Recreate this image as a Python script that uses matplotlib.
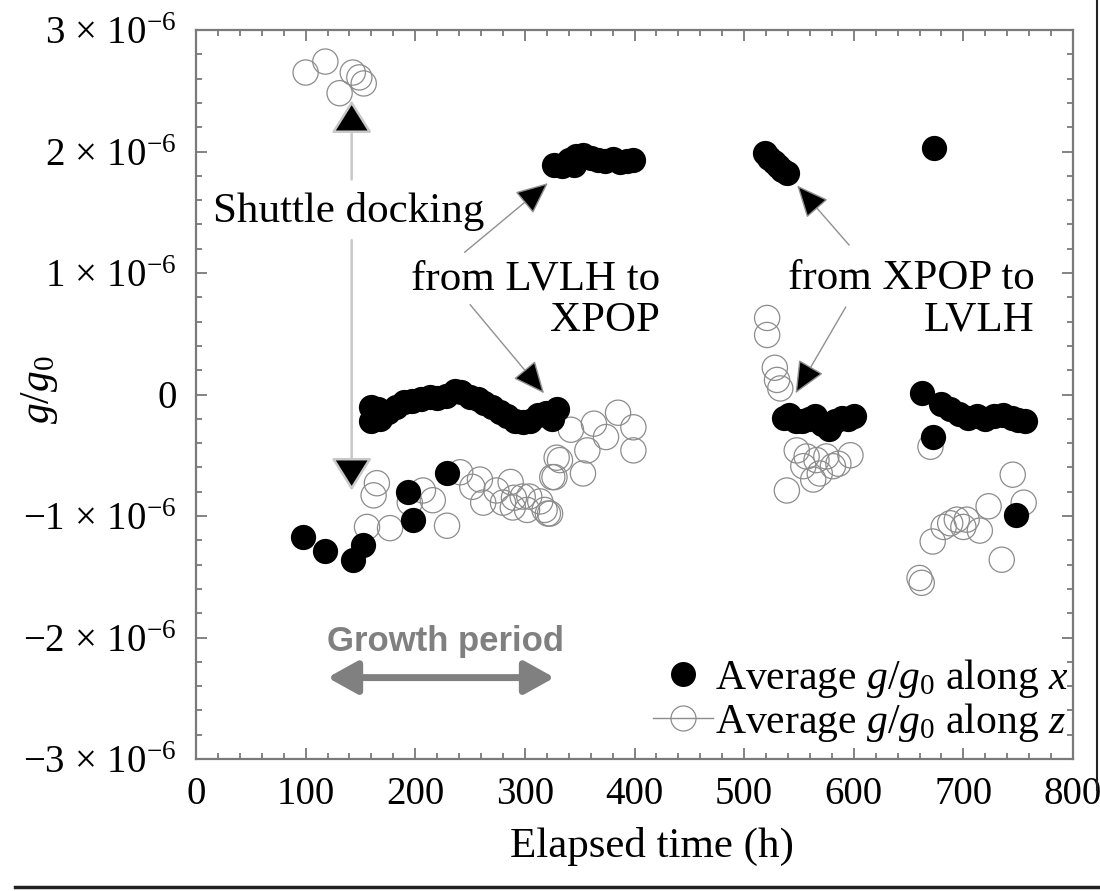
import numpy as np
import matplotlib
matplotlib.use('Agg')
import matplotlib.pyplot as plt
from matplotlib.lines import Line2D
from matplotlib.ticker import MultipleLocator

plt.rcParams['font.family'] = ['Liberation Serif', 'DejaVu Serif']
plt.rcParams['mathtext.fontset'] = 'custom'
plt.rcParams['mathtext.rm'] = 'Liberation Serif'
plt.rcParams['mathtext.it'] = 'Liberation Serif:italic'
plt.rcParams['mathtext.bf'] = 'Liberation Serif:bold'

U = 1e-6

# ---- data: average g/g0 along x (filled) ----
x_time = np.array([98, 118, 143, 152, 193, 198, 229,
                   160, 160, 166, 168, 175, 182, 190, 197, 205, 213, 220, 228, 236, 242,
                   250, 257, 263, 270, 277, 284, 291, 298, 305, 312, 319, 325, 329,
                   327, 334, 340, 345, 347, 353, 360, 367, 373, 380, 387, 393, 399,
                   519, 523, 527, 531, 535, 539,
                   536, 541, 547, 553, 559, 565, 571, 577, 583, 589, 595, 600,
                   662, 673, 672, 680, 688, 696, 704, 712, 720, 728, 736, 744, 750, 756, 748])
x_acc = np.array([-1.17, -1.29, -1.36, -1.24, -0.80, -1.03, -0.65,
                  -0.10, -0.22, -0.12, -0.20, -0.14, -0.10, -0.06, -0.05, -0.04, -0.02, -0.03, -0.01, 0.03, 0.02,
                  -0.02, -0.04, -0.07, -0.10, -0.14, -0.18, -0.22, -0.23, -0.22, -0.17, -0.15, -0.20, -0.12,
                  1.89, 1.88, 1.93, 1.89, 1.96, 1.97, 1.95, 1.93, 1.92, 1.94, 1.91, 1.92, 1.93,
                  1.99, 1.95, 1.91, 1.88, 1.85, 1.82,
                  -0.19, -0.17, -0.22, -0.22, -0.20, -0.18, -0.24, -0.28, -0.22, -0.19, -0.20, -0.18,
                  0.01, 2.03, -0.35, -0.08, -0.12, -0.16, -0.19, -0.18, -0.20, -0.18, -0.17, -0.19, -0.21, -0.22, -0.99]) * U

# ---- data: average g/g0 along z (open) ----
z_time = np.array([100, 118, 131, 143, 149, 153,
                   156, 162, 165, 177, 195, 207, 216, 229, 241, 252, 259, 262, 274, 280,
                   287, 290, 298, 302, 314, 318, 323, 327, 329, 304, 321, 289,
                   332, 342, 353, 357, 363, 374, 385, 399, 399, 325,
                   521, 521, 528, 530, 533, 539, 548, 554, 557, 563, 566, 569, 575, 581, 586, 597,
                   670, 660, 662, 672, 682, 688, 694, 700, 703, 715, 723, 735, 745, 755])
z_acc = np.array([2.65, 2.74, 2.48, 2.65, 2.61, 2.56,
                  -1.09, -0.83, -0.73, -1.10, -0.89, -0.79, -0.87, -1.08, -0.64, -0.76, -0.70, -0.89, -0.79, -0.89,
                  -0.72, -0.85, -0.84, -0.95, -0.88, -0.95, -0.98, -0.68, -0.52, -0.84, -0.98, -0.93,
                  -0.54, -0.29, -0.65, -0.46, -0.24, -0.35, -0.15, -0.27, -0.46, -0.68,
                  0.63, 0.49, 0.22, 0.12, 0.05, -0.79, -0.46, -0.59, -0.51, -0.70, -0.54, -0.65, -0.51, -0.59, -0.57, -0.50,
                  -0.43, -1.51, -1.55, -1.21, -1.09, -1.06, -1.03, -1.09, -1.03, -1.12, -0.92, -1.36, -0.66, -0.89]) * U

x_ticks = [0, 100, 200, 300, 400, 500, 600, 700, 800]
x_tick_labels = ['0', '100', '200', '300', '400', '500', '600', '700', '800']
y_ticks = np.array([-3, -2, -1, 0, 1, 2, 3]) * U
y_tick_labels = [r'$-3\,\times\,10^{-6}$', r'$-2\,\times\,10^{-6}$', r'$-1\,\times\,10^{-6}$', '0',
                 r'$1\,\times\,10^{-6}$', r'$2\,\times\,10^{-6}$', r'$3\,\times\,10^{-6}$']

AX_GRAY = '#7a7a7a'
CIRC_GRAY = '#8c8c8c'

fig = plt.figure(figsize=(11, 8.91), dpi=100)
ax = fig.add_axes([196 / 1100, 1 - 759 / 891, (1073 - 196) / 1100, (759 - 30) / 891])

ax.scatter(z_time, z_acc, s=330, facecolors='none', edgecolors=CIRC_GRAY, linewidths=0.9, zorder=2)
ax.scatter(x_time, x_acc, s=330, c='black', linewidths=0, zorder=3)

ax.set_xlim(0, 800)
ax.set_ylim(-3 * U, 3 * U)
ax.set_xticks(x_ticks)
ax.set_xticklabels(x_tick_labels)
ax.set_yticks(y_ticks)
ax.set_yticklabels(y_tick_labels)
ax.xaxis.set_minor_locator(MultipleLocator(20))
ax.yaxis.set_minor_locator(MultipleLocator(0.2 * U))

for s in ax.spines.values():
    s.set_color(AX_GRAY)
    s.set_linewidth(1.6)
ax.tick_params(which='both', direction='in', top=True, right=True, color=AX_GRAY, width=1.3)
ax.tick_params(which='major', length=8)
ax.tick_params(which='minor', length=4)
ax.tick_params(axis='x', which='major', labelsize=28, pad=12)
ax.tick_params(axis='y', which='major', labelsize=28, pad=14)

ax.set_xlabel('Elapsed time (h)', fontsize=31)
ax.xaxis.set_label_coords(0.52, -0.093)
ax.set_ylabel(r'$g/g_0$', fontsize=30)
ax.yaxis.set_label_coords(-0.155, 0.506)

# annotations
ax.text(15.5, 1.42 * U, 'Shuttle docking', fontsize=31, ha='left', va='baseline', zorder=5)
dock_props = dict(arrowstyle='-|>,head_length=0.4,head_width=0.25', mutation_scale=52,
                  ec='#c8c8c8', fc='black', lw=1.8, shrinkA=0, shrinkB=0)
ax.annotate('', xy=(142, 2.42 * U), xytext=(142, 1.77 * U), arrowprops=dock_props)
ax.annotate('', xy=(142, -0.79 * U), xytext=(142, 1.27 * U), arrowprops=dock_props)

ax.text(423, 0.78 * U, 'from LVLH to\nXPOP', fontsize=31, ha='right', va='center',
        multialignment='right', linespacing=1.1)
ax.text(765, 0.78 * U, 'from XPOP to\nLVLH', fontsize=31, ha='right', va='center',
        multialignment='right', linespacing=1.1)
arr_props = dict(arrowstyle='-|>,head_length=0.45,head_width=0.2', mutation_scale=45,
                 ec='#909090', fc='black', lw=1.0, shrinkA=0, shrinkB=0)
ax.annotate('', xy=(321, 1.74 * U), xytext=(245, 1.17 * U), arrowprops=arr_props)
ax.annotate('', xy=(317.5, 0.01 * U), xytext=(250, 0.74 * U), arrowprops=arr_props)
ax.annotate('', xy=(548.4, 1.72 * U), xytext=(595.8, 1.23 * U), arrowprops=arr_props)
ax.annotate('', xy=(546.9, 0.01 * U), xytext=(592.7, 0.72 * U), arrowprops=arr_props)

ax.text(228, -2.11 * U, 'Growth period', fontsize=25, fontweight='bold', color='#808080',
        family=['Liberation Sans', 'DejaVu Sans'], ha='center', va='baseline')
ax.annotate('', xy=(327, -2.33 * U), xytext=(120, -2.33 * U),
            arrowprops=dict(arrowstyle='<|-|>,head_length=0.45,head_width=0.25', mutation_scale=40,
                            color='#808080', lw=5, shrinkA=0, shrinkB=0))

handles = [Line2D([], [], ls='none', marker='o', ms=18, mfc='black', mec='black', mew=0),
           Line2D([], [], ls='-', color=CIRC_GRAY, lw=1.0, marker='o', ms=18, mfc='none',
                  mec=CIRC_GRAY, mew=0.9)]
labels = [r'Average $g$/$g_0$ along $x$', r'Average $g$/$g_0$ along $z$']
ax.legend(handles, labels, loc='lower right', bbox_to_anchor=(1.0, 0.015), frameon=False,
          fontsize=30, handlelength=1.45, handletextpad=0.05, labelspacing=0.02,
          borderaxespad=0.1, borderpad=0.0)

# page border fragments of the source
fig.add_artist(Line2D([1097 / 1100, 1097 / 1100], [1, 1 - 790 / 891], transform=fig.transFigure,
                      color='#222222', lw=1.5))
fig.add_artist(Line2D([15 / 1100, 1], [1 - 887 / 891, 1 - 887 / 891], transform=fig.transFigure,
                      color='#222222', lw=2.5))

fig.savefig('out.png', dpi=100)
